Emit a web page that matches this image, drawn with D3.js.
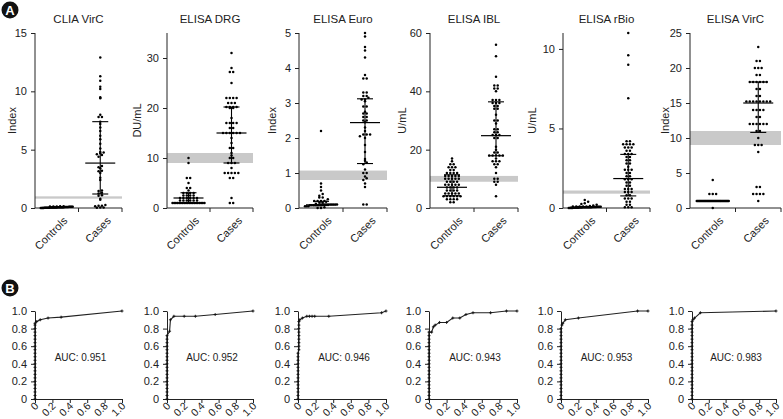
<!DOCTYPE html>
<html><head><meta charset="utf-8">
<script src="https://cdn.jsdelivr.net/npm/d3@7"></script>
<style>body{margin:0;background:#fff}svg{display:block;font-family:"Liberation Sans",Arial,sans-serif}</style>
</head><body><svg id="c" width="783" height="419"></svg>
<script>
// ---------- DATA ----------
const titles = ["CLIA VirC","ELISA DRG","ELISA Euro","ELISA IBL","ELISA rBio","ELISA VirC"];
const units = ["Index","DU/mL","Index","U/mL","U/mL","Index"];
const groupNames = ["Controls","Cases"];
const yMax = [15,35,5,60,11,25];
const yTicks = [[0,5,10,15],[0,10,20,30],[0,1,2,3,4,5],[0,20,40,60],[0,5,10],[0,5,10,15,20,25]];
const cutLow = [0.8,9,0.8,9,0.9,9];
const cutHigh = [1.0,11,1.07,11,1.1,11];

const ctrl_CLIA_VirC = [0,0,0,0,0.02,0.02,0.03,0.03,0.04,0.04,0.05,0.05,0.05,0.05,0.06,0.06,0.06,0.07,0.07,0.08,0.08,0.08,0.09,0.09,0.1,0.1,0.1,0.11,0.11,0.12,0.12,0.13,0.14,0.15,0.02,0.03,0.04,0.05,0.06,0.07];
const cases_CLIA_VirC = [12.9,11.3,10.9,10.4,10.2,9.5,9.4,8.0,7.8,7.8,7.4,7.2,6.9,6.6,6.2,5.9,5.5,5.1,4.8,4.75,4.7,4.6,4.55,4.4,3.6,3.5,3.4,3.2,3.15,3.0,2.6,2.4,1.5,1.45,1.3,1.25,1.1,1.05,0.8,0.7,0.25,0.2,0.2,0.15,0.05,0.05,0.02];
const ctrl_ELISA_DRG = [10,9,6,6,5,4,4,3.5,3,3,3,3,2.5,2.5,2.5,2.5,2,2,2,2,2,2,1.5,1.5,1.5,1.5,1.5,1.5,1,1,1,1,1,1,1,1,1,1,1,1,1,1,1,1,1,1,1,1];
const cases_ELISA_DRG = [31,28,27.2,27.2,25,22,22,22,22,21,21,21,20.2,20.2,20.2,20.2,20,20,18,17,17,17,17,16,16,15,15,15,15,15,15,14,13,12,12,11,10.5,10,10,9,9,9,8,7,7,7,7,7,6,6,2,1,1];
const ctrl_ELISA_Euro = [2.2,0.7,0.6,0.5,0.4,0.35,0.3,0.3,0.25,0.2,0.2,0.2,0.2,0.18,0.15,0.15,0.12,0.1,0.1,0.1,0.1,0.1,0.1,0.1,0.1,0.1,0.08,0.08,0.08,0.08,0.08,0.08,0.08,0.08,0.05,0.05,0.05,0.02,0,0];
const cases_ELISA_Euro = [5.0,4.9,4.6,4.5,4.3,3.8,3.7,3.7,3.3,3.3,3.2,3.2,3.15,3.1,3.1,3.05,2.9,2.9,2.75,2.7,2.7,2.6,2.6,2.5,2.5,2.45,2.3,2.2,2.1,2.1,2.1,2.05,2.0,1.8,1.6,1.4,1.35,1.3,1.25,1.1,1.0,1.0,0.9,0.85,0.8,0.7,0.6,0.1,0.1];
const ctrl_ELISA_IBL = [17,16,15,15,14,14,14,13,13,12,12,12,12,11,11,11,11,11,10,10,10,10,10,9,9,9,9,8,8,8,8,8,7,7,7,7,6,6,6,6,5,5,5,5,5,4,4,4,4,4,4,3,3,3,3,2,2];
const cases_ELISA_IBL = [56,52,45,42,42,41,41,40,37,37,37,36,36,36,35,35,34,34,32,30,30,29,27,27,26,26,25,25,25,24,24,21,20,19,19,18,18,18,18,18,17,16,16,16,15,15,14,12,10,10,9,9,8,4];
const ctrl_ELISA_rBio = [0.5,0.4,0.3,0.25,0.2,0.15,0.12,0.1,0.1,0.1,0.1,0.08,0.08,0.08,0.08,0.06,0.06,0.06,0.05,0.05,0.05,0.05,0.04,0.04,0.04,0.03,0.03,0.03,0.02,0.02,0.02,0.01,0.01,0,0,0,0,0.05,0.07,0.09];
const cases_ELISA_rBio = [11.0,9.6,9.0,6.9,4.2,4.2,4.0,4.0,4.0,4.0,3.8,3.8,3.8,3.6,3.6,3.4,3.4,3.4,3.2,3.2,3.0,3.0,2.8,2.8,2.6,2.4,2.4,2.4,2.2,2.2,2.0,2.0,1.8,1.8,1.8,1.6,1.6,1.4,1.4,1.2,1.2,1.2,1.0,1.0,1.0,0.8,0.8,0.6,0.6,0.6,0.4,0.4,0.2,0.2,0.05,0.05,0.05];
const ctrl_ELISA_VirC = [4,2,2,2,1,1,1,1,1,1,1,1,1,1,1,1,1,1,1,1,1,1,1,1,1,1,1,1,1,1,1,1,1,1,1,1,1,1,1,1,1,1,0];
const cases_ELISA_VirC = [23,21,21,20,20,20,19,19,18,18,18,18,18,18,17,17,16,16,15.2,15.2,15.2,15.2,15.2,15.2,15.2,15.2,14,14,14,14,13,13,12,12,12,12,12,12,11,11,10,9,9,9,8,3,3,2,2,2,2,1];

// median, Q1, Q3 per group [controls, cases]
const median = [[0.05,3.85],[2,15],[0.09,2.44],[7.1,24.8],[0.05,1.85],[1,15]];
const q1 = [[0.03,1.2],[1,9],[0.07,1.27],[4.2,17.9],[0.03,0.76],[1,10.8]];
const q3 = [[0.08,7.4],[3.05,20.2],[0.19,3.12],[11.4,36.4],[0.09,3.37],[1,18]];

const controls = [ctrl_CLIA_VirC,ctrl_ELISA_DRG,ctrl_ELISA_Euro,ctrl_ELISA_IBL,ctrl_ELISA_rBio,ctrl_ELISA_VirC];
const cases = [cases_CLIA_VirC,cases_ELISA_DRG,cases_ELISA_Euro,cases_ELISA_IBL,cases_ELISA_rBio,cases_ELISA_VirC];

// ROC curves: [FPR, TPR]
const roc_CLIA_VirC = [[0,0],[0,0.04],[0,0.08],[0,0.12],[0,0.16],[0,0.2],[0,0.24],[0,0.28],[0,0.32],[0,0.36],[0,0.4],[0,0.44],[0,0.48],[0,0.52],[0,0.56],[0,0.6],[0,0.64],[0,0.68],[0,0.72],[0,0.76],[0,0.8],[0,0.84],[0,0.86],[0.02,0.88],[0.06,0.9],[0.15,0.92],[0.3,0.93],[1,1]];
const roc_ELISA_DRG = [[0,0],[0,0.04],[0,0.08],[0,0.12],[0,0.16],[0,0.2],[0,0.24],[0,0.28],[0,0.32],[0,0.36],[0,0.4],[0,0.44],[0,0.48],[0,0.52],[0,0.56],[0,0.6],[0,0.64],[0,0.68],[0,0.72],[0.03,0.77],[0.04,0.9],[0.08,0.94],[0.2,0.94],[0.33,0.94],[0.56,0.96],[1,1]];
const roc_ELISA_Euro = [[0,0],[0,0.04],[0,0.08],[0,0.12],[0,0.16],[0,0.2],[0,0.24],[0,0.28],[0,0.32],[0,0.36],[0,0.4],[0,0.44],[0,0.48],[0,0.52],[0.01,0.56],[0.01,0.6],[0.01,0.64],[0.01,0.68],[0.01,0.72],[0.01,0.76],[0.01,0.8],[0.01,0.84],[0.01,0.88],[0.02,0.9],[0.05,0.92],[0.1,0.94],[0.13,0.94],[0.16,0.94],[0.19,0.94],[0.35,0.94],[0.95,0.98],[1,1]];
const roc_ELISA_IBL = [[0,0],[0,0.04],[0,0.08],[0,0.12],[0,0.16],[0,0.2],[0,0.24],[0,0.28],[0,0.32],[0,0.36],[0,0.4],[0,0.44],[0,0.48],[0,0.52],[0,0.56],[0,0.6],[0,0.64],[0,0.68],[0,0.72],[0,0.76],[0.03,0.76],[0.05,0.82],[0.07,0.84],[0.12,0.87],[0.2,0.87],[0.27,0.92],[0.35,0.92],[0.42,0.96],[0.5,0.98],[0.7,0.98],[0.88,1],[1,1]];
const roc_ELISA_rBio = [[0,0],[0,0.04],[0,0.08],[0,0.12],[0,0.16],[0,0.2],[0,0.24],[0,0.28],[0,0.32],[0,0.36],[0,0.4],[0,0.44],[0,0.48],[0,0.52],[0,0.56],[0,0.6],[0,0.64],[0,0.68],[0,0.72],[0,0.76],[0,0.8],[0.01,0.84],[0.02,0.86],[0.05,0.9],[0.2,0.92],[0.88,1],[1,1]];
const roc_ELISA_VirC = [[0,0],[0,0.04],[0,0.08],[0,0.12],[0,0.16],[0,0.2],[0,0.24],[0,0.28],[0,0.32],[0,0.36],[0,0.4],[0,0.44],[0,0.48],[0,0.52],[0,0.56],[0,0.6],[0,0.64],[0,0.68],[0,0.72],[0,0.76],[0,0.8],[0,0.84],[0,0.88],[0.01,0.9],[0.03,0.92],[0.1,0.98],[1,1]];
const rocs = [roc_CLIA_VirC,roc_ELISA_DRG,roc_ELISA_Euro,roc_ELISA_IBL,roc_ELISA_rBio,roc_ELISA_VirC];
const aucLabels = ["AUC: 0.951","AUC: 0.952","AUC: 0.946","AUC: 0.943","AUC: 0.953","AUC: 0.983"];
const rocTicks = [0,0.2,0.4,0.6,0.8,1.0];

// ---------- LAYOUT ----------
const svg = d3.select("#c");
const FONT = 11;
const aLeft = [35,167,299,430,563,690];
const aWidth = [87,86,88,88,87,91];
const unitOffset = [23,30,27,28,31,25];
const aTop = 33, aBottom = 208;
const bLeft = [35,167,298,429,561,692];
const bWidth = [87,86,88,88,87,84];
const bTop = 311, bBottom = 399;
const ink = "#222";

function badge(x,y,t){
  svg.append("circle").attr("cx",x).attr("cy",y).attr("r",8.5).attr("fill","#111");
  svg.append("text").attr("x",x).attr("y",y+4.5).attr("text-anchor","middle").attr("fill","#fff")
    .attr("font-size",13).attr("font-weight","bold").text(t);
}
badge(10,10,"A");
badge(10,288,"B");

function swarm(vals, y, cx){
  const sorted = vals.slice().sort((a,b)=>a-b);
  const bins = d3.groups(sorted, v=>Math.round(y(v)/2.6));
  const out = [];
  bins.forEach(([b,arr])=>{
    const n = arr.length;
    const s = n>1 ? Math.min(3.4, 32/(n-1)) : 0;
    arr.forEach((v,i)=>out.push({x:cx+(i-(n-1)/2)*s, y:y(v)}));
  });
  return out;
}

function styleAxis(g){
  g.selectAll("path,line").attr("stroke",ink).attr("stroke-width",1);
  g.selectAll("text").attr("fill",ink).attr("font-size",FONT).attr("font-family","Liberation Sans, Arial, sans-serif");
}

for(let p=0;p<6;p++){
  const L = aLeft[p], W = aWidth[p];
  const y = d3.scaleLinear().domain([0,yMax[p]]).range([aBottom,aTop]);
  const x = d3.scaleBand().domain(groupNames).range([L,L+W]);
  const g = svg.append("g");
  g.append("rect").attr("x",L).attr("width",W).attr("y",y(cutHigh[p])).attr("height",y(cutLow[p])-y(cutHigh[p]))
    .attr("fill","#c9c9c9");
  g.append("text").attr("x",L+W/2).attr("y",23).attr("text-anchor","middle").attr("font-size",11.5).attr("fill",ink).text(titles[p]);
  g.append("text").attr("transform",`translate(${L-unitOffset[p]},${(aTop+aBottom)/2}) rotate(-90)`).attr("text-anchor","middle")
    .attr("dy","0.35em").attr("font-size",FONT).attr("fill",ink).text(units[p]);
  const ya = g.append("g").attr("transform",`translate(${L},0)`)
    .call(d3.axisLeft(y).tickValues(yTicks[p]).tickFormat(d3.format("~g")).tickSize(4).tickPadding(4).tickSizeOuter(0));
  ya.select(".domain").attr("d",`M0,${aTop}V${aBottom}`);
  styleAxis(ya);
  const xa = g.append("g").attr("transform",`translate(0,${aBottom})`);
  xa.append("line").attr("x1",L).attr("x2",L+W).attr("stroke",ink);
  [L+W/2, L+W].forEach(t=>xa.append("line").attr("x1",t).attr("x2",t).attr("y1",0).attr("y2",4).attr("stroke",ink));
  groupNames.forEach(gn=>{
    const cx = x(gn)+x.bandwidth()/2;
    xa.append("text").attr("transform",`translate(${cx+6},${8}) rotate(-45)`).attr("text-anchor","end")
      .attr("dy","0.7em").attr("font-size",FONT).attr("fill",ink).text(gn);
  });
  [controls[p],cases[p]].forEach((vals,gi)=>{
    const cx = x(groupNames[gi])+x.bandwidth()/2;
    const pts = swarm(vals,y,cx);
    g.selectAll(null).data(pts).enter().append("circle").attr("cx",d=>d.x).attr("cy",d=>d.y).attr("r",1.25).attr("fill","#000");
    const m = y(median[p][gi]), a = y(q1[p][gi]), b = y(q3[p][gi]);
    g.append("line").attr("x1",cx).attr("x2",cx).attr("y1",a).attr("y2",b).attr("stroke","#000").attr("stroke-width",1.1);
    g.append("line").attr("x1",cx-15).attr("x2",cx+15).attr("y1",m).attr("y2",m).attr("stroke","#000").attr("stroke-width",1.2);
    [a,b].forEach(v=>g.append("line").attr("x1",cx-8).attr("x2",cx+8).attr("y1",v).attr("y2",v).attr("stroke","#000").attr("stroke-width",1.1));
  });
}

// ---------- ROC ----------
for(let p=0;p<6;p++){
  const L = bLeft[p], W = bWidth[p];
  const x = d3.scaleLinear().domain([0,1]).range([L,L+W]);
  const y = d3.scaleLinear().domain([0,1]).range([bBottom,bTop]);
  const g = svg.append("g");
  const fmt = d=> d===0 ? "0" : d.toFixed(1);
  const ya = g.append("g").attr("transform",`translate(${L},0)`)
    .call(d3.axisLeft(y).tickValues(rocTicks).tickFormat(fmt).tickSize(4).tickPadding(4).tickSizeOuter(0));
  styleAxis(ya);
  const xa = g.append("g").attr("transform",`translate(0,${bBottom})`)
    .call(d3.axisBottom(x).tickValues(rocTicks).tickFormat(fmt).tickSize(4).tickSizeOuter(0));
  styleAxis(xa);
  xa.selectAll(".tick text").attr("x",0).attr("y",0).attr("dy","0.35em").attr("text-anchor","end")
    .attr("font-size",10.5).attr("transform","translate(1,5) rotate(-45)");
  const line = d3.line().x(d=>x(d[0])).y(d=>y(d[1]));
  g.append("path").attr("d",line(rocs[p])).attr("fill","none").attr("stroke",ink).attr("stroke-width",1.1);
  g.selectAll(null).data(rocs[p]).enter().append("path")
    .attr("d",d=>`M${x(d[0])-1.5},${y(d[1])}h3M${x(d[0])},${y(d[1])-1.5}v3`)
    .attr("stroke","#111").attr("stroke-width",0.9);
  g.append("text").attr("x",L+W/2+2).attr("y",361).attr("text-anchor","middle").attr("font-size",10).attr("fill",ink).text(aucLabels[p]);
}
</script></body></html>
